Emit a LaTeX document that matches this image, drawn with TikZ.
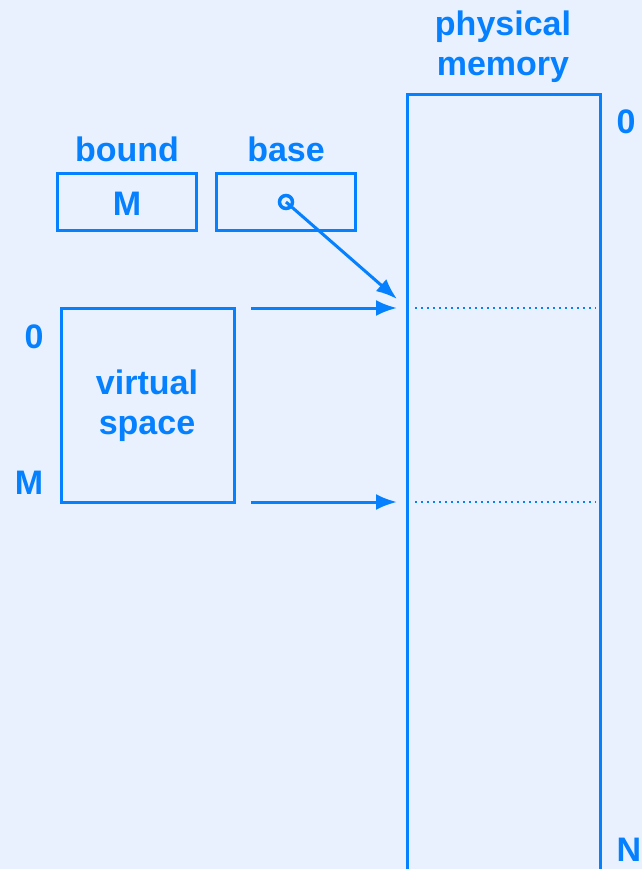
\documentclass[tikz,border=0pt]{standalone}
\usepackage{fontspec}
\setmainfont{Liberation Sans}
\usetikzlibrary{arrows.meta}
\definecolor{bg}{RGB}{232,241,253}
\definecolor{ink}{RGB}{5,128,255}
\tikzset{
  lbl/.style={text=ink,font=\fontsize{34}{40}\selectfont\bfseries,inner sep=0pt,align=center},
  regbox/.style={draw=ink,line width=3pt,minimum width=139pt,minimum height=56pt,inner sep=0pt},
  conn/.style={draw=ink,line width=3pt,-{Latex[length=21pt,width=16pt]}},
  dots/.style={draw=ink,line width=2pt,dash pattern=on 2pt off 4pt}
}
\begin{document}
\begin{tikzpicture}[x=1pt,y=-1pt]
\fill[bg] (0,0) rectangle (642,869);
\useasboundingbox (0,0) rectangle (642,869);
% physical memory
\node[lbl] (pmlab) at (503,47) {physical\\memory};
\coordinate (pmbl) at (407,872);
\coordinate (pmtl) at (407,95);
\coordinate (pmtr) at (600,95);
\coordinate (pmbr) at (600,872);
\draw[ink,line width=3pt] (pmbl) -- (pmtl) -- (pmtr) -- (pmbr);
\node[lbl] (p0) at (626,122) {0};
\node[lbl] (pN) at (629,850) {N};
% registers
\node[lbl] (boundlab) at (127,149) {bound};
\node[regbox] (bound) at (126.5,202) {};
\node[lbl] (boundval) at (127,204) {M};
\node[lbl] (baselab) at (286,149) {base};
\node[regbox] (base) at (286,202) {};
\node[draw=ink,line width=3.5pt,circle,minimum size=13pt,inner sep=0pt] (ptr) at (286,202) {};
\coordinate (tipA) at (397,299);
\draw[conn] (ptr.center) -- (tipA);
% virtual space
\node[draw=ink,line width=3pt,minimum width=173pt,minimum height=194pt,inner sep=0pt] (vs) at (147.5,405) {};
\node[lbl] (vslab) at (147,406) {virtual\\space};
\node[lbl] (v0) at (34,337) {0};
\node[lbl] (vM) at (29,483) {M};
% mapping arrows
\coordinate (a1s) at (251,308);
\coordinate (a1e) at (397,308);
\coordinate (a2s) at (251,502);
\coordinate (a2e) at (397,502);
\draw[conn] (a1s) -- (a1e);
\draw[conn] (a2s) -- (a2e);
\coordinate (d1s) at (415,308);
\coordinate (d1e) at (596,308);
\coordinate (d2s) at (415,502);
\coordinate (d2e) at (596,502);
\draw[dots] (d1s) -- (d1e);
\draw[dots] (d2s) -- (d2e);
\end{tikzpicture}
\end{document}
